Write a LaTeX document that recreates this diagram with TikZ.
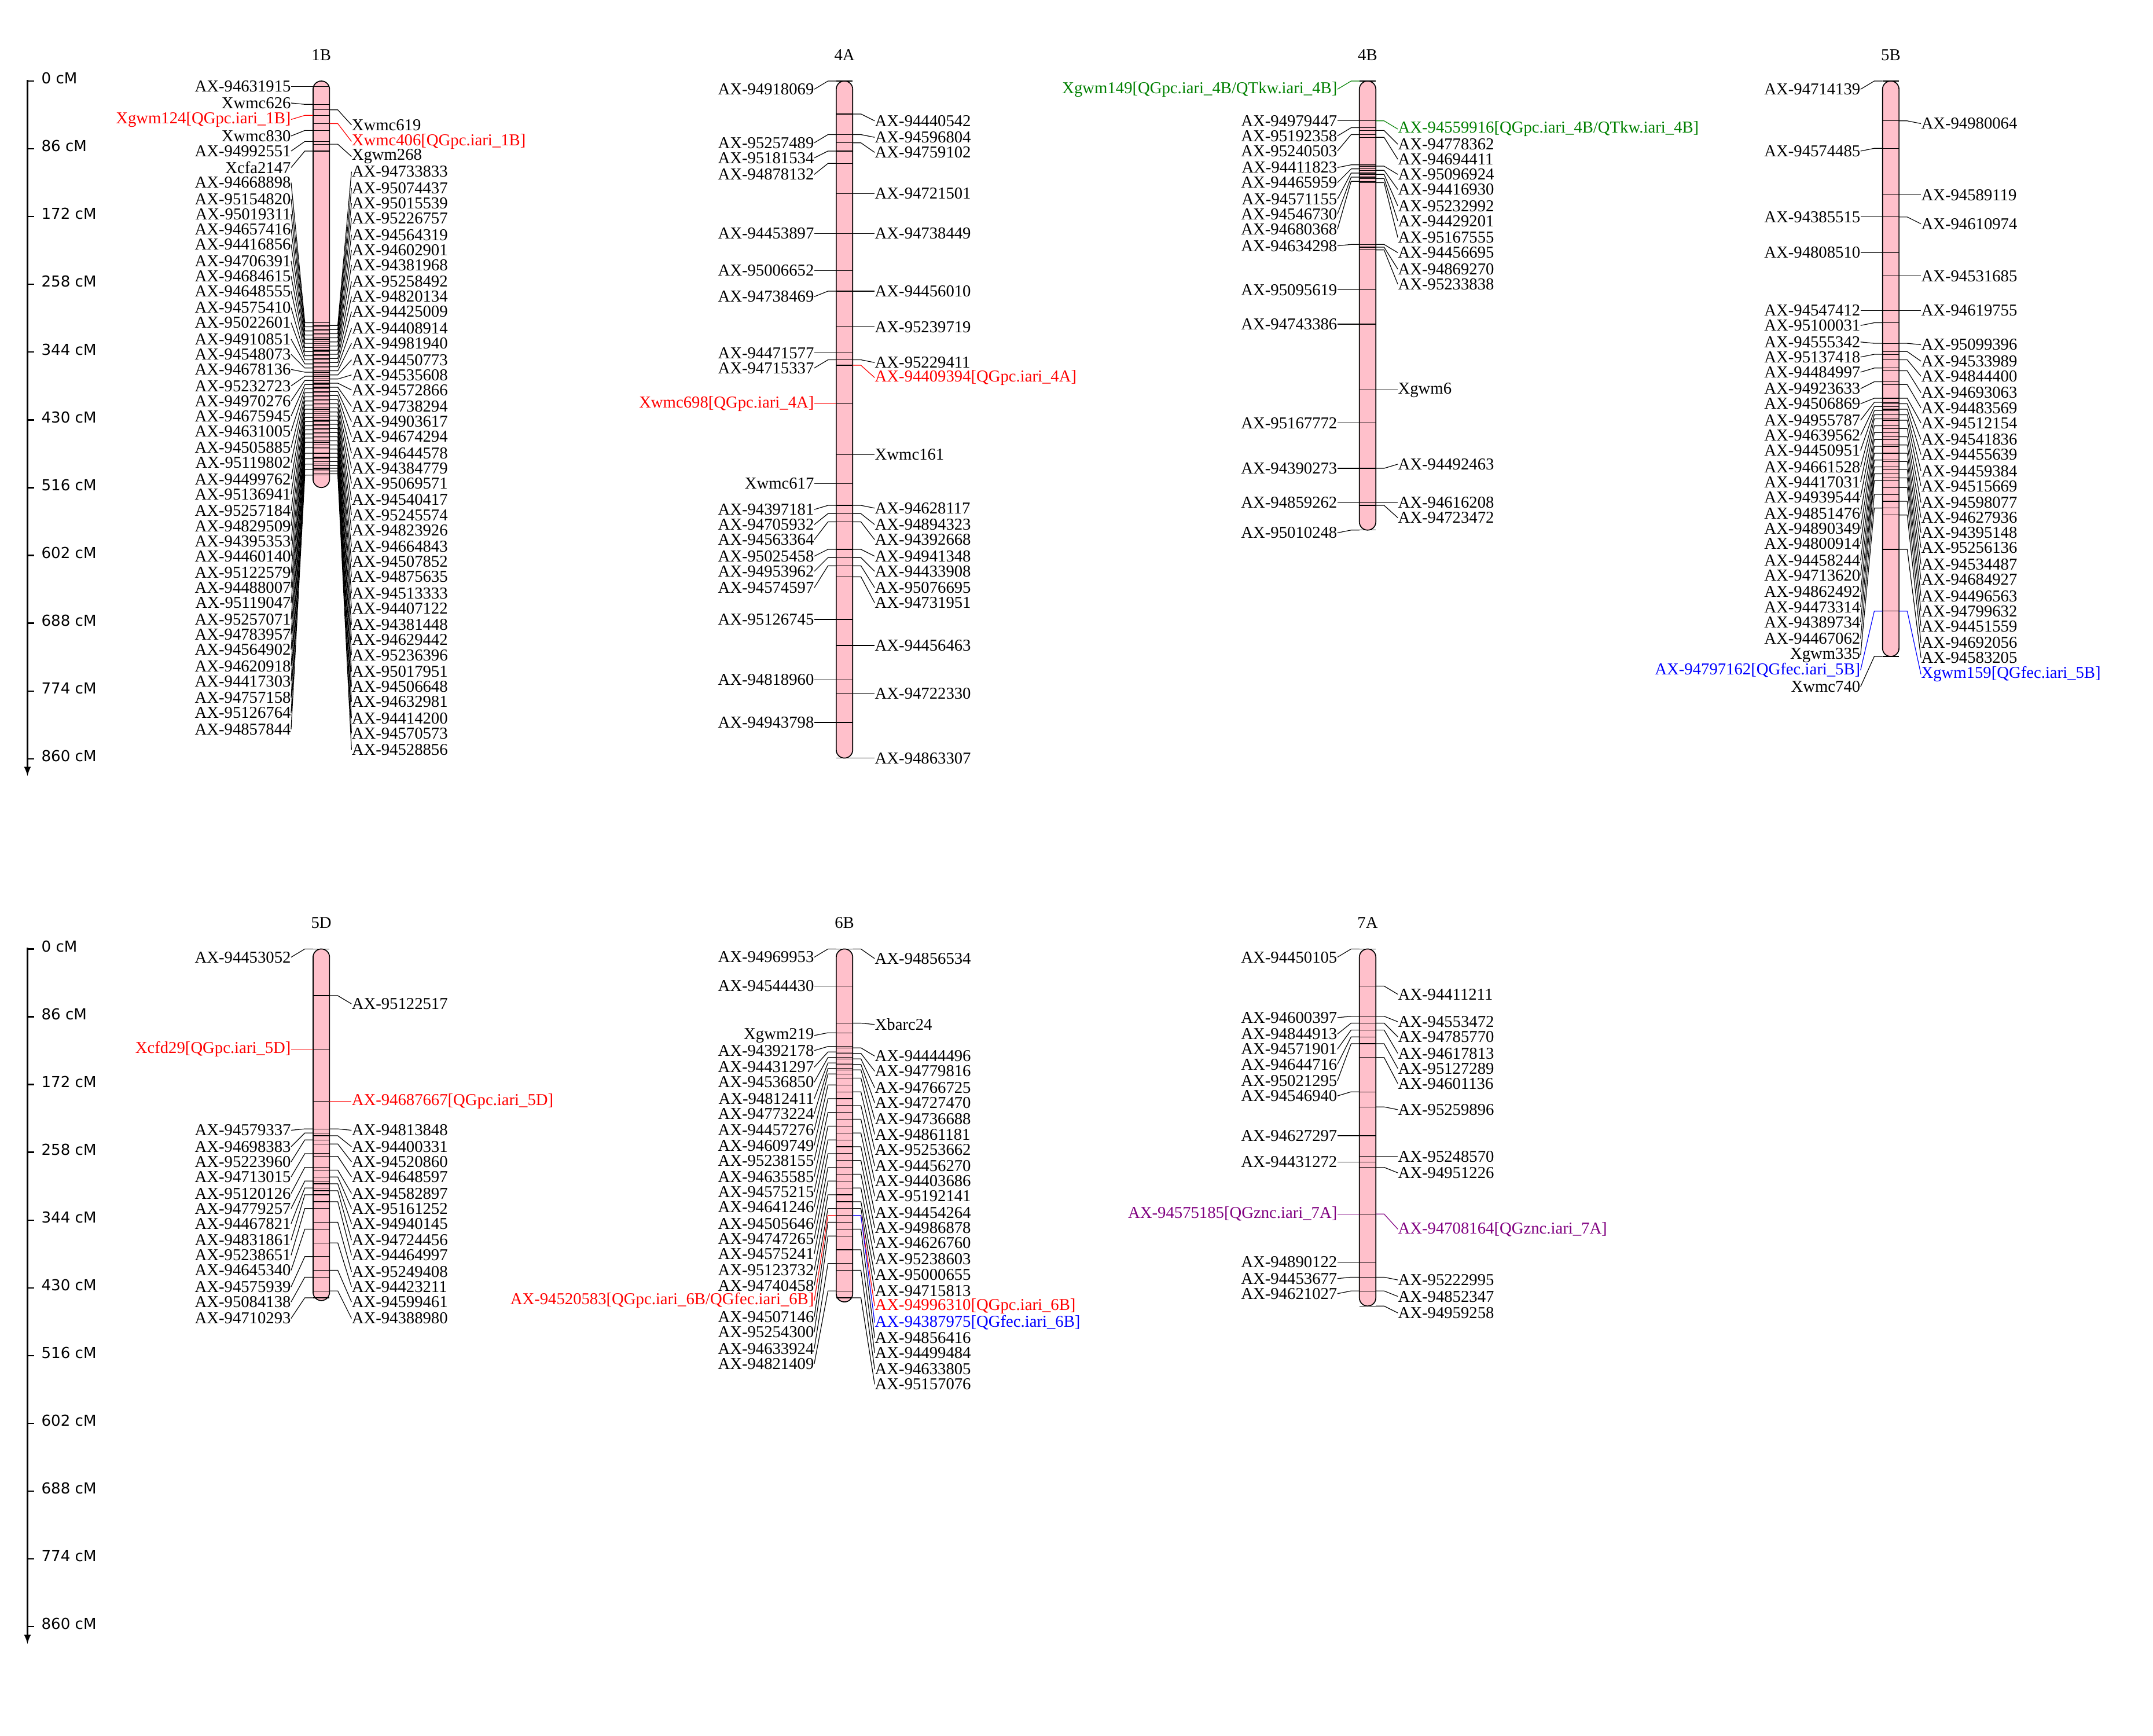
\documentclass[tikz,border=0pt]{standalone}
\usepackage{fontspec}
\setmainfont{Liberation Serif}
\newfontfamily\axf{DejaVu Sans}
\definecolor{k}{RGB}{0,0,0}
\definecolor{r}{RGB}{255,0,0}
\definecolor{g}{RGB}{0,128,0}
\definecolor{b}{RGB}{0,0,255}
\definecolor{p}{RGB}{128,0,128}
\definecolor{barpink}{RGB}{255,192,203}
\tikzset{lab/.style={font=\fontsize{12.1}{13}\selectfont,inner sep=0pt},
 conn/.style={line width=0.5pt},
 tick/.style={line width=0.5pt,black},
 bar/.style={draw=black,fill=barpink,line width=0.7pt,rounded corners=6pt},
 ttl/.style={font=\fontsize{12.1}{13}\selectfont},
 axl/.style={font=\axf\fontsize{11}{12}\selectfont,anchor=west,inner sep=0pt}}
\newcommand\chrbar[5]{% x, top, bottom, title, name
 \draw[bar] ({#1-6},#2) rectangle ({#1+6},#3);
 \node[ttl] (#5) at (#1,{#2-19}) {#4};}
\newcommand\mk[5]{%
\foreach \t/\ly/\my/\c [count=\i] in {#5}{
 \draw[tick] ({#1-6},\my) -- ({#1+6},\my);
 \node[lab,text=\c,anchor=#3] (#4\i) at ({#1+#2*22},\ly) {\t};
 \draw[\c,conn] ({#1+#2*6},\my) -- ({#1+#2*12},\my) -- (#4\i.#3);
}}
\newcommand\axis[2]{% top y, name
 \coordinate (#2a) at (20,{#1-1});
 \coordinate (#2b) at (20,{#1+506});
 \draw[line width=1.3pt,-latex] (#2a) -- (#2b);
 \foreach \v [count=\j from 0] in {0,86,172,258,344,430,516,602,688,774,860}{
  \draw[line width=1pt] (20,{#1+\j*49.35}) -- (25,{#1+\j*49.35});
  \node[axl] (#2\j) at (30,{#1+\j*49.35-2}) {\v\ cM};}}
\begin{document}
\begin{tikzpicture}[x=1pt,y=-1pt]
\useasboundingbox (0,0) rectangle (1568,1264);
\axis{59}{ta}
\axis{691}{ba}
% 1B
\chrbar{234}{59}{355}{1B}{t1B}
\mk{234}{-1}{east}{a}{AX-94631915/63/63/k,Xwmc626/75/76/k,{Xgwm124[QGpc.iari\_1B]}/87/84/r,Xwmc830/99/95/k,AX-94992551/110/103/k,Xcfa2147/122/110/k,
AX-94668898/133/235/k,AX-95154820/145/238/k,AX-95019311/156/241/k,AX-94657416/167/244/k,AX-94416856/178/247/k,AX-94706391/190/250/k,AX-94684615/201/253/k,AX-94648555/212/256/k,AX-94575410/224/259/k,AX-95022601/235/262/k,AX-94910851/247/265/k,AX-94548073/258/268/k,AX-94678136/269/271/k,AX-95232723/281/274/k,AX-94970276/292/277/k,AX-94675945/303/280/k,AX-94631005/314/283/k,AX-94505885/326/286/k,AX-95119802/337/289/k,AX-94499762/349/292/k,AX-95136941/360/295/k,AX-95257184/372/298/k,AX-94829509/383/301/k,AX-94395353/394/304/k,AX-94460140/405/307/k,AX-95122579/417/310/k,AX-94488007/428/313/k,AX-95119047/439/316/k,AX-95257071/451/319/k,AX-94783957/462/322/k,AX-94564902/473/326/k,AX-94620918/485/330/k,AX-94417303/496/334/k,AX-94757158/508/338/k,AX-95126764/519/342/k,AX-94857844/531/346/k}
\mk{234}{1}{west}{b}{Xwmc619/91/80/k,{Xwmc406[QGpc.iari\_1B]}/103/90/r,Xgwm268/114/105/k,
AX-94733833/125/237/k,AX-95074437/137/240/k,AX-95015539/148/243/k,AX-95226757/159/246/k,AX-94564319/171/249/k,AX-94602901/182/252/k,AX-94381968/193/255/k,AX-95258492/205/258/k,AX-94820134/216/261/k,AX-94425009/227/264/k,AX-94408914/239/267/k,AX-94981940/250/270/k,AX-94450773/262/273/k,AX-94535608/273/276/k,AX-94572866/284/279/k,AX-94738294/296/282/k,AX-94903617/307/285/k,AX-94674294/318/288/k,AX-94644578/330/291/k,AX-94384779/341/294/k,AX-95069571/352/297/k,AX-94540417/364/300/k,AX-95245574/375/303/k,AX-94823926/386/306/k,AX-94664843/398/309/k,AX-94507852/409/312/k,AX-94875635/420/315/k,AX-94513333/432/318/k,AX-94407122/443/321/k,AX-94381448/455/324/k,AX-94629442/466/327/k,AX-95236396/477/330/k,AX-95017951/489/333/k,AX-94506648/500/336/k,AX-94632981/511/339/k,AX-94414200/523/341/k,AX-94570573/534/343/k,AX-94528856/546/345/k}
% 4A
\chrbar{615}{59}{552}{4A}{t4A}
\mk{615}{-1}{east}{c}{AX-94918069/65/59/k,AX-95257489/104/98/k,AX-95181534/115/110/k,AX-94878132/127/119/k,AX-94453897/170/170/k,AX-95006652/197/197/k,AX-94738469/216/212/k,AX-94471577/257/257/k,AX-94715337/268/262/k,{Xwmc698[QGpc.iari\_4A]}/294/294/r,Xwmc617/352/352/k,AX-94397181/371/368/k,AX-94705932/382/374/k,AX-94563364/393/380/k,AX-95025458/405/400/k,AX-94953962/416/406/k,AX-94574597/428/412/k,AX-95126745/451/451/k,AX-94818960/495/495/k,AX-94943798/526/526/k}
\mk{615}{1}{west}{d}{AX-94440542/88/83/k,AX-94596804/100/98/k,AX-94759102/111/104/k,AX-94721501/141/141/k,AX-94738449/170/170/k,AX-94456010/212/212/k,AX-95239719/238/238/k,AX-95229411/264/262/k,{AX-94409394[QGpc.iari\_4A]}/275/266/r,Xwmc161/331/331/k,AX-94628117/370/368/k,AX-94894323/382/374/k,AX-94392668/393/380/k,AX-94941348/405/400/k,AX-94433908/416/406/k,AX-95076695/428/412/k,AX-94731951/439/420/k,AX-94456463/470/470/k,AX-94722330/505/505/k,AX-94863307/552/552/k}
% 4B
\chrbar{996}{59}{386}{4B}{t4B}
\mk{996}{-1}{east}{e}{{Xgwm149[QGpc.iari\_4B/QTkw.iari\_4B]}/65/59/g,AX-94979447/88/88/k,AX-95192358/99/93/k,AX-95240503/110/98/k,AX-94411823/122/120/k,AX-94465959/133/123/k,AX-94571155/145/126/k,AX-94546730/156/129/k,AX-94680368/167/132/k,AX-94634298/179/178/k,AX-95095619/211/211/k,AX-94743386/236/236/k,AX-95167772/308/308/k,AX-94390273/341/341/k,AX-94859262/366/366/k,AX-95010248/388/386/k}
\mk{996}{1}{west}{f}{{AX-94559916[QGpc.iari\_4B/QTkw.iari\_4B]}/94/88/g,AX-94778362/105/95/k,AX-94694411/116/100/k,AX-95096924/127/121/k,AX-94416930/138/124/k,AX-95232992/150/127/k,AX-94429201/161/130/k,AX-95167555/173/133/k,AX-94456695/184/178/k,AX-94869270/196/180/k,AX-95233838/207/182/k,Xgwm6/284/284/k,AX-94492463/338/341/k,AX-94616208/366/366/k,AX-94723472/377/368/k}
% 5B
\chrbar{1377}{59}{478}{5B}{t5B}
\mk{1377}{-1}{east}{g}{AX-94714139/65/59/k,AX-94574485/110/108/k,AX-94385515/158/158/k,AX-94808510/184/184/k,AX-94547412/226/226/k,AX-95100031/237/235/k,AX-94555342/249/250/k,AX-95137418/260/258/k,AX-94484997/271/268/k,AX-94923633/283/278/k,AX-94506869/294/290/k,AX-94955787/306/293/k,AX-94639562/317/296/k,AX-94450951/328/299/k,AX-94661528/340/302/k,AX-94417031/351/305/k,AX-94939544/362/310/k,AX-94851476/374/315/k,AX-94890349/385/320/k,AX-94800914/396/325/k,AX-94458244/408/330/k,AX-94713620/419/335/k,AX-94862492/431/340/k,AX-94473314/442/345/k,AX-94389734/453/350/k,AX-94467062/465/360/k,Xgwm335/477/370/k,{AX-94797162[QGfec.iari\_5B]}/488/445/b,Xwmc740/500/478/k}
\mk{1377}{1}{west}{h}{AX-94980064/90/88/k,AX-94589119/142/142/k,AX-94610974/163/158/k,AX-94531685/201/201/k,AX-94619755/226/226/k,AX-95099396/251/250/k,AX-94533989/263/256/k,AX-94844400/274/262/k,AX-94693063/286/270/k,AX-94483569/297/280/k,AX-94512154/308/290/k,AX-94541836/320/294/k,AX-94455639/331/298/k,AX-94459384/343/302/k,AX-94515669/354/306/k,AX-94598077/366/312/k,AX-94627936/377/318/k,AX-94395148/388/324/k,AX-95256136/399/330/k,AX-94534487/411/336/k,AX-94684927/422/342/k,AX-94496563/434/348/k,AX-94799632/445/355/k,AX-94451559/456/365/k,AX-94692056/468/375/k,AX-94583205/479/400/k,{Xgwm159[QGfec.iari\_5B]}/491/445/b}
% 5D
\chrbar{234}{691}{947}{5D}{t5D}
\mk{234}{-1}{east}{i}{AX-94453052/697/691/k,{Xcfd29[QGpc.iari\_5D]}/764/764/r,AX-94579337/823/822/k,AX-94698383/835/825/k,AX-95223960/846/830/k,AX-94713015/857/840/k,AX-95120126/869/850/k,AX-94779257/880/860/k,AX-94467821/891/865/k,AX-94831861/903/870/k,AX-95238651/914/880/k,AX-94645340/925/895/k,AX-94575939/937/915/k,AX-95084138/948/930/k,AX-94710293/960/945/k}
\mk{234}{1}{west}{j}{AX-95122517/731/725/k,{AX-94687667[QGpc.iari\_5D]}/802/802/r,AX-94813848/823/822/k,AX-94400331/835/827/k,AX-94520860/846/833/k,AX-94648597/857/842/k,AX-94582897/869/852/k,AX-95161252/880/857/k,AX-94940145/891/862/k,AX-94724456/903/867/k,AX-94464997/914/875/k,AX-95249408/926/890/k,AX-94423211/937/905/k,AX-94599461/948/925/k,AX-94388980/960/940/k}
% 6B
\chrbar{615}{691}{948}{6B}{t6B}
\mk{615}{-1}{east}{l}{AX-94969953/697/691/k,AX-94544430/718/718/k,Xgwm219/754/752/k,AX-94392178/765/762/k,AX-94431297/777/766/k,AX-94536850/788/770/k,AX-94812411/800/774/k,AX-94773224/811/778/k,AX-94457276/823/782/k,AX-94609749/834/790/k,AX-95238155/845/800/k,AX-94635585/857/810/k,AX-94575215/868/820/k,AX-94641246/879/830/k,AX-94505646/891/840/k,AX-94747265/902/850/k,AX-94575241/913/860/k,AX-95123732/925/870/k,AX-94740458/936/880/k,{AX-94520583[QGpc.iari\_6B/QGfec.iari\_6B]}/947/885/r,AX-94507146/959/890/k,AX-95254300/970/900/k,AX-94633924/982/920/k,AX-94821409/993/940/k}
\mk{615}{1}{west}{m}{AX-94856534/698/691/k,Xbarc24/746/745/k,AX-94444496/769/763/k,AX-94779816/780/767/k,AX-94766725/792/771/k,AX-94727470/803/775/k,AX-94736688/815/779/k,AX-94861181/826/785/k,AX-95253662/837/795/k,AX-94456270/849/805/k,AX-94403686/860/815/k,AX-95192141/871/825/k,AX-94454264/883/835/k,AX-94986878/894/845/k,AX-94626760/905/855/k,AX-95238603/917/865/k,AX-95000655/928/875/k,AX-94715813/940/880/k,{AX-94996310[QGpc.iari\_6B]}/951/885/r,{AX-94387975[QGfec.iari\_6B]}/963/885/b,AX-94856416/974/895/k,AX-94499484/985/910/k,AX-94633805/997/925/k,AX-95157076/1008/945/k}
% 7A
\chrbar{996}{691}{951}{7A}{t7A}
\mk{996}{-1}{east}{n}{AX-94450105/697/691/k,AX-94600397/741/740/k,AX-94844913/753/745/k,AX-94571901/764/750/k,AX-94644716/775/755/k,AX-95021295/787/760/k,AX-94546940/798/795/k,AX-94627297/827/827/k,AX-94431272/846/846/k,{AX-94575185[QGznc.iari\_7A]}/884/884/p,AX-94890122/919/919/k,AX-94453677/931/930/k,AX-94621027/942/940/k}
\mk{996}{1}{west}{o}{AX-94411211/724/718/k,AX-94553472/744/740/k,AX-94785770/755/745/k,AX-94617813/767/750/k,AX-95127289/778/760/k,AX-94601136/789/770/k,AX-95259896/808/806/k,AX-95248570/842/842/k,AX-94951226/854/850/k,{AX-94708164[QGznc.iari\_7A]}/895/884/p,AX-95222995/932/930/k,AX-94852347/944/940/k,AX-94959258/956/951/k}
\end{tikzpicture}
\end{document}
